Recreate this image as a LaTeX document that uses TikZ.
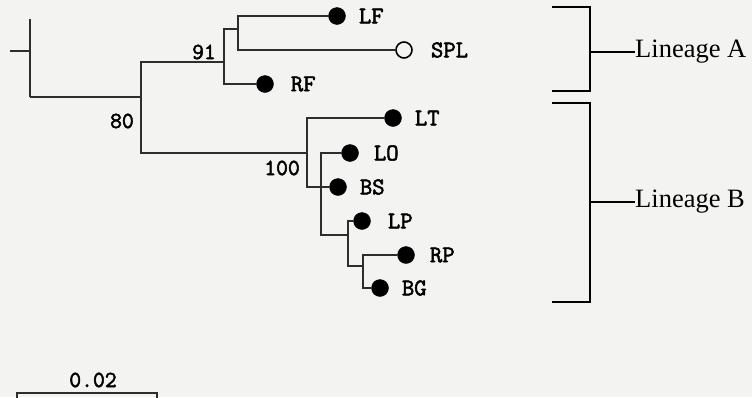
\documentclass[tikz,border=0pt]{standalone}
\usepackage{fontspec}
\setmainfont{Liberation Serif}
\newfontfamily\taxonfont{Latin Modern Mono}[FakeBold=2.2]
\definecolor{paper}{RGB}{243,243,241}
\definecolor{branch}{RGB}{45,45,45}
\begin{document}
\begin{tikzpicture}[x=1pt,y=-1pt,
  branchline/.style={draw=branch,line width=1.3pt},
  bracketline/.style={draw=black,line width=1.5pt},
  leaf/.style={circle,fill=black,draw=black,minimum size=17pt,inner sep=0pt},
  openleaf/.style={circle,fill=paper,draw=black,line width=1.6pt,minimum size=16pt,inner sep=0pt},
  taxon/.style={font=\taxonfont\fontsize{24}{26}\selectfont,inner sep=0pt,anchor=west},
  support/.style={font=\taxonfont\fontsize{23}{26}\selectfont,inner sep=0pt},
  lineage/.style={font=\fontsize{26.5}{30}\selectfont,inner sep=0pt,anchor=west}]
\useasboundingbox[fill=paper] (0,0) rectangle (752,397);

% internal nodes of the tree
\coordinate (stub) at (10,51);
\coordinate (r0) at (30,51);
\coordinate (r0top) at (30,19);
\coordinate (r0bot) at (30,97);
\coordinate (n1) at (141,97);
\coordinate (n2) at (224,62);
\coordinate (n3) at (238,29);
\coordinate (n4) at (307,153);
\coordinate (n5) at (321,187);
\coordinate (n6) at (348,235);
\coordinate (n7) at (363,266);

% tips
\node[leaf] (LF) at (337,16) {};
\node[openleaf] (SPL) at (404,50) {};
\node[leaf] (RF) at (265,84) {};
\node[leaf] (LT) at (393,118) {};
\node[leaf] (LO) at (350,153) {};
\node[leaf] (BS) at (338,187) {};
\node[leaf] (LP) at (362,221) {};
\node[leaf] (RP) at (406,255) {};
\node[leaf] (BG) at (380,288) {};

% tip labels
\foreach \t/\d in {LF/13,SPL/18,RF/17,LT/13,LO/15,BS/13,LP/17,RP/15,BG/13}
  \node[taxon] (lab\t) at ([xshift=\d pt]\t.east) {\t};

% branches
\draw[branchline] (stub) -- (r0);
\draw[branchline] (r0top) -- (r0bot);
\draw[branchline] (r0bot) -- (n1);
\draw[branchline] (n1) |- (n2);
\draw[branchline] (n1) |- (n4);
\draw[branchline] (n2) |- (n3);
\draw[branchline] (n2) |- (RF);
\draw[branchline] (n3) |- (LF);
\draw[branchline] (n3) |- (SPL);
\draw[branchline] (n4) |- (LT);
\draw[branchline] (n4) |- (n5);
\draw[branchline] (n5) -- (BS);
\draw[branchline] (n5) |- (LO);
\draw[branchline] (n5) |- (n6);
\draw[branchline] (n6) |- (LP);
\draw[branchline] (n6) |- (n7);
\draw[branchline] (n7) |- (RP);
\draw[branchline] (n7) |- (BG);

% bootstrap support values
\node[support,anchor=east] (b91) at (216,52) {91};
\node[support,anchor=east] (b80) at (134,121) {80};
\node[support,anchor=east] (b100) at (300,168) {100};

% lineage brackets
\coordinate (aT) at (552,7);
\coordinate (aB) at (552,91);
\coordinate (aM) at (590,52);
\coordinate (bT) at (552,103);
\coordinate (bB) at (552,302);
\coordinate (bM) at (590,202);
\draw[bracketline] (aT) -| (aM) |- (aB);
\draw[bracketline] (bT) -| (bM) |- (bB);
\node[lineage] (linA) at (635,52) {Lineage A};
\node[lineage] (linB) at (635,202) {Lineage B};
\draw[bracketline] (aM) -- (linA.west);
\draw[bracketline] (bM) -- (linB.west);

% scale bar
\coordinate (sL) at (17,393);
\coordinate (sR) at (157,393);
\draw[branchline,line width=1.1pt] ([yshift=-10pt]sL) -- (sL) -- (sR) -- ([yshift=-10pt]sR);
\node[support] (scale) at (93,380) {0.02};
\end{tikzpicture}
\end{document}
